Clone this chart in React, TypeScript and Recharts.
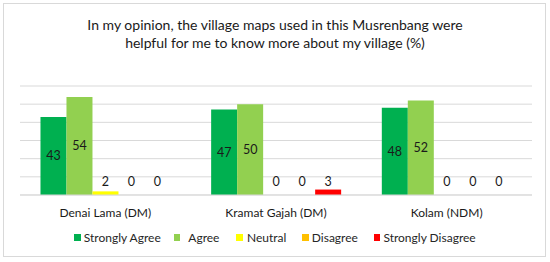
import React from "react";
import { BarChart, Bar, XAxis, YAxis, CartesianGrid, Legend, LabelList } from "recharts";

const villages = ["Denai Lama (DM)", "Kramat Gajah (DM)", "Kolam (NDM)"];
const stronglyAgree = [43, 47, 48];
const agree = [54, 50, 52];
const neutral = [2, 0, 0];
const disagree = [0, 0, 0];
const stronglyDisagree = [0, 3, 0];
const yTicks = [0, 10, 20, 30, 40, 50, 60];

const seriesNames = ["Strongly Agree", "Agree", "Neutral", "Disagree", "Strongly Disagree"];
const seriesKeys = ["sa", "a", "n", "d", "sd"];
const seriesColors = ["#00B050", "#92D050", "#FFFF00", "#FFC000", "#FF0000"];

const data = villages.map((v, i) => ({
  name: v,
  sa: stronglyAgree[i],
  a: agree[i],
  n: neutral[i],
  d: disagree[i],
  sd: stronglyDisagree[i],
}));

const FONT = "Lato, 'Open Sans', sans-serif";

const renderLabel = (props: any) => {
  const { x, y, width, height, value } = props;
  const cx = Number(x) + Number(width) / 2;
  const base = Number(y) + Number(height);
  const cy = Number(value) >= 5 ? Number(y) + Number(height) / 2 : base - 14;
  return (
    <text x={cx} y={cy} textAnchor="middle" dominantBaseline="central" fontSize={12.5} fontFamily={FONT} fill="#1a1a1a">
      {value}
    </text>
  );
};

const legendGapAfterSwatch = [3, 8, 4, 3, 3];
const legendGapAfterItem = [13, 17, 16, 16, 0];

const renderLegend = () => (
  <div style={{ display: "flex", justifyContent: "center", fontFamily: FONT, fontSize: 12, color: "#262626" }}>
    {seriesNames.map((n, i) => (
      <div key={n} style={{ display: "flex", alignItems: "center", marginRight: legendGapAfterItem[i] }}>
        <span
          style={{
            width: 6.5,
            height: 6.5,
            background: seriesColors[i],
            display: "inline-block",
            marginRight: legendGapAfterSwatch[i],
          }}
        />
        <span>{n}</span>
      </div>
    ))}
  </div>
);

export default function App() {
  return (
    <div style={{ position: "absolute", left: 0, top: 0, width: 550, height: 262, background: "#fff" }}>
      <div
        style={{
          position: "absolute",
          left: 3,
          top: 3,
          width: 543,
          height: 254,
          border: "1px solid #D9D9D9",
          boxSizing: "border-box",
        }}
      />
      <div
        style={{
          position: "absolute",
          left: 0,
          top: 16,
          width: 550,
          textAlign: "center",
          fontFamily: FONT,
          fontSize: 14,
          lineHeight: "18px",
          color: "#1a1a1a",
        }}
      >
        In my opinion, the village maps used in this Musrenbang were
        <br />
        helpful for me to know more about my village (%)
      </div>
      <div style={{ position: "absolute", left: 0, top: 0 }}>
        <BarChart
          width={550}
          height={262}
          data={data}
          margin={{ top: 86, right: 18, bottom: 37, left: 20 }}
          barCategoryGap="12%"
          barGap={0}
        >
          <CartesianGrid vertical={false} stroke="#D9D9D9" />
          <YAxis hide domain={[0, 60]} ticks={yTicks} interval={0} />
          <XAxis
            dataKey="name"
            height={30}
            axisLine={{ stroke: "#D9D9D9" }}
            tickLine={false}
            tick={{ fontSize: 12, fontFamily: FONT, fill: "#1a1a1a" }}
            tickMargin={7}
          />
          <Legend
            layout="horizontal"
            verticalAlign="middle"
            align="center"
            content={renderLegend}
            wrapperStyle={{ top: 230, left: 0, width: 550 }}
          />
          {seriesKeys.map((k, i) => (
            <Bar
              key={k}
              dataKey={k}
              name={seriesNames[i]}
              fill={seriesColors[i]}
              minPointSize={0.01}
              isAnimationActive={false}
            >
              <LabelList dataKey={k} content={renderLabel} />
            </Bar>
          ))}
        </BarChart>
      </div>
    </div>
  );
}
